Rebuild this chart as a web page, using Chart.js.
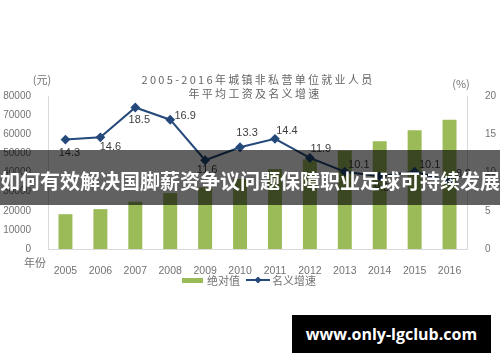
<!DOCTYPE html>
<html>
<head>
<meta charset="utf-8">
<script src="https://cdn.jsdelivr.net/npm/chart.js@4.4.1/dist/chart.umd.min.js"></script>
<style>
  html, body { margin: 0; padding: 0; background: #fff; }
  #wrap { position: relative; width: 500px; height: 362px; overflow: hidden; }
  #banner {
    position: absolute; left: 0; top: 150px; width: 500px; height: 55px;
    background: rgba(0, 0, 0, 0.62); color: #fff;
    font: bold 20px "Noto Sans CJK SC", sans-serif;
    display: flex; align-items: center; justify-content: center;
    box-sizing: border-box; padding-top: 6px; white-space: nowrap;
  }
  #mark {
    position: absolute; left: 292px; top: 315px; width: 199px; height: 38px;
    background: #000; color: #fff;
    font: bold 16px "Open Sans", sans-serif;
    display: flex; align-items: center; justify-content: center;
  }
</style>
</head>
<body>
<div id="wrap">
  <canvas id="wageChart" width="500" height="362"></canvas>
  <div id="banner">如何有效解决国脚薪资争议问题保障职业足球可持续发展</div>
  <div id="mark">www.only-lgclub.com</div>
</div>
<script>
// data
const years = ["2005", "2006", "2007", "2008", "2009", "2010", "2011", "2012", "2013", "2014", "2015", "2016"];
const wages = [18200, 20856, 24721, 29229, 32244, 36539, 41799, 46769, 51483, 56360, 62029, 67569];
const growth = [14.3, 14.6, 18.5, 16.9, 11.6, 13.3, 14.4, 11.9, 10.1, 9.5, 10.1, 8.9];
const titleLines = ["2005-2016年城镇非私营单位就业人员", "年平均工资及名义增速"];
const legendNames = ["绝对值", "名义增速"];

// where each growth label sits relative to its marker
const labelShift = [[4, 13], [10, 10], [4, 12], [15, -4], [2, 10], [7, -14],
  [12, -8], [11, -9], [14, -7], [2, 12], [15, -7], [14, -7]];

const GREEN = "#9bbb59";
const BLUE = "#24497a";
const GRAY = "#737373";
const CJK = "'Noto Sans CJK SC', sans-serif";

Chart.defaults.font.family = "'Liberation Sans', 'Noto Sans CJK SC', sans-serif";
Chart.defaults.font.size = 10;
Chart.defaults.color = GRAY;

const extras = {
  id: "extras",
  afterDatasetsDraw(chart) {
    const ctx = chart.ctx;
    const meta = chart.getDatasetMeta(1);
    ctx.save();
    ctx.font = "11px 'Liberation Sans', sans-serif";
    ctx.fillStyle = "#404040";
    ctx.textAlign = "center";
    ctx.textBaseline = "middle";
    meta.data.forEach((pt, i) => {
      const s = labelShift[i];
      ctx.fillText(growth[i].toFixed(1), pt.x + s[0], pt.y + s[1]);
    });
    ctx.restore();
  },
  afterDraw(chart) {
    const ctx = chart.ctx;
    ctx.save();
    // title
    ctx.fillStyle = "#666";
    ctx.textAlign = "center";
    ctx.textBaseline = "middle";
    ctx.font = "11px " + CJK;
    ctx.letterSpacing = "2.3px";
    ctx.fillText(titleLines[0], 258, 80);
    ctx.fillText(titleLines[1], 255, 94);
    ctx.letterSpacing = "0px";
    // units
    ctx.fillStyle = GRAY;
    ctx.font = "11px " + CJK;
    ctx.fillText("(元)", 42, 80);
    ctx.fillText("(%)", 461, 84);
    ctx.fillText("年份", 35, 263);
    // legend
    ctx.fillStyle = GREEN;
    ctx.fillRect(182, 278, 21, 5);
    ctx.fillStyle = GRAY;
    ctx.textAlign = "left";
    ctx.fillText(legendNames[0], 207, 281);
    ctx.strokeStyle = BLUE;
    ctx.lineWidth = 2;
    ctx.beginPath();
    ctx.moveTo(246, 280);
    ctx.lineTo(270, 280);
    ctx.stroke();
    ctx.fillStyle = BLUE;
    ctx.beginPath();
    ctx.moveTo(258, 276.5);
    ctx.lineTo(261.5, 280);
    ctx.lineTo(258, 283.5);
    ctx.lineTo(254.5, 280);
    ctx.closePath();
    ctx.fill();
    ctx.fillStyle = GRAY;
    ctx.fillText(legendNames[1], 272, 281);
    ctx.restore();
  }
};

new Chart(document.getElementById("wageChart"), {
  type: "bar",
  data: {
    labels: years,
    datasets: [
      {
        type: "bar",
        label: legendNames[0],
        data: wages,
        backgroundColor: GREEN,
        yAxisID: "y",
        categoryPercentage: 1,
        barPercentage: 0.4,
        order: 1,
      },
      {
        type: "line",
        label: legendNames[1],
        data: growth,
        borderColor: BLUE,
        backgroundColor: BLUE,
        borderWidth: 2,
        pointStyle: "rectRot",
        pointRadius: 3.5,
        tension: 0,
        yAxisID: "y1",
        order: 0,
      },
    ],
  },
  options: {
    responsive: false,
    animation: false,
    layout: { padding: { top: 96, left: 0, right: 0, bottom: 0 } },
    plugins: { legend: { display: false }, tooltip: { enabled: false } },
    scales: {
      x: {
        grid: { display: false },
        border: { color: "#d9d9d9" },
        ticks: { padding: 8, font: { size: 10.5 } },
        afterFit(scale) { scale.height = 113; },
      },
      y: {
        position: "left",
        min: 0,
        max: 80000,
        grid: { display: false },
        border: { color: "#d9d9d9" },
        ticks: { stepSize: 10000, padding: 9, callback: (v) => String(v) },
        afterFit(scale) { scale.width = 48; },
      },
      y1: {
        position: "right",
        min: 0,
        max: 20,
        grid: { display: false },
        border: { color: "#d9d9d9" },
        ticks: { stepSize: 5, padding: 10, callback: (v) => String(v) },
        afterFit(scale) { scale.width = 33; },
      },
    },
  },
  plugins: [extras],
});
</script>
</body>
</html>
